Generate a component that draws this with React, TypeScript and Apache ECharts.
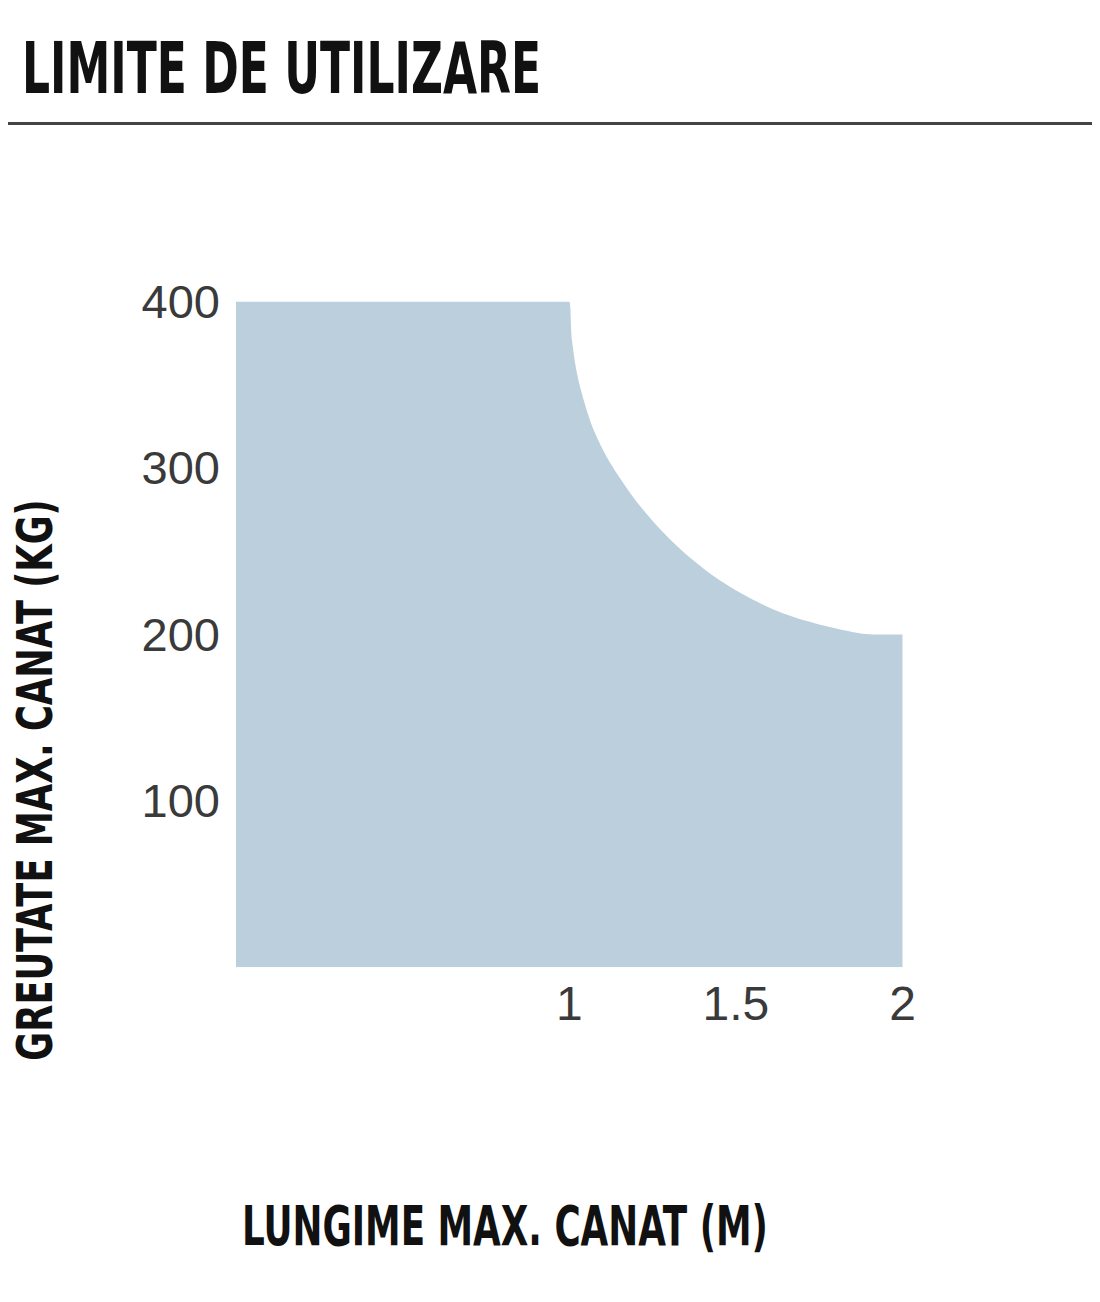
import React, { useEffect, useRef } from "react";
import * as echarts from "echarts";

const TITLE = "LIMITE DE UTILIZARE";
const X_NAME = "LUNGIME MAX. CANAT (M)";
const Y_NAME = "GREUTATE MAX. CANAT (KG)";

const X_TICKS = [1, 1.5, 2];
const Y_TICKS = [100, 200, 300, 400];

// usage limit boundary: [length (m), max weight (kg)]
const LIMIT_FLAT: [number, number][] = [
  [0, 400],
  [0.5, 400],
  [0.99, 400],
];
const LIMIT_CURVE: [number, number][] = [
  [1.0, 400],
  [1.008, 377],
  [1.023, 357],
  [1.043, 341],
  [1.073, 323],
  [1.123, 303],
  [1.213, 277],
  [1.313, 255],
  [1.413, 238],
  [1.513, 225],
  [1.613, 215],
  [1.713, 208],
  [1.813, 203],
  [1.912, 200],
  [2.0, 200],
];

const FILL = "#bccfdc";
const COND = "'Liberation Sans Narrow', 'DejaVu Sans Condensed', sans-serif";

export default function App() {
  const ref = useRef<HTMLDivElement>(null);
  useEffect(() => {
    if (!ref.current) return;
    const chart = echarts.init(ref.current, null, { renderer: "svg" });
    const data = [...LIMIT_FLAT, ...LIMIT_CURVE];
    chart.setOption({
      animation: false,
      backgroundColor: "#ffffff",
      grid: { left: 228, right: 197.5, top: 293.5, bottom: 326.7 },
      xAxis: {
        type: "value",
        min: 0,
        max: 2,
        interval: 0.5,
        axisLine: { show: false },
        axisTick: { show: false },
        splitLine: { show: false },
        axisLabel: {
          margin: 12,
          fontSize: 48,
          color: "#3a3a3a",
          fontFamily: "'Liberation Sans', Arial, sans-serif",
          formatter: (v: number) => (X_TICKS.includes(v) ? String(v) : ""),
        },
      },
      yAxis: {
        type: "value",
        min: 0,
        max: 400,
        interval: 100,
        axisLine: { show: false },
        axisTick: { show: false },
        splitLine: { show: false },
        axisLabel: {
          margin: 16,
          fontSize: 47,
          color: "#3a3a3a",
          fontFamily: "'Liberation Sans', Arial, sans-serif",
          formatter: (v: number) => (Y_TICKS.includes(v) ? String(v) : ""),
        },
      },
      series: [
        {
          type: "line",
          data,
          smooth: 0.3,
          showSymbol: false,
          symbol: "none",
          lineStyle: { width: 0, color: FILL },
          areaStyle: { color: FILL, opacity: 1 },
          silent: true,
        },
      ],
      graphic: [
        {
          type: "text",
          x: 14,
          y: 59.5,
          scaleX: 0.69,
          style: {
            text: TITLE,
            font: `bold 71px ${COND}`,
            fill: "#111111",
            align: "left",
            verticalAlign: "middle",
          },
        },
        {
          type: "line",
          shape: { x1: 0, y1: 115.5, x2: 1092, y2: 115.5 },
          style: { stroke: "#444444", lineWidth: 3 },
        },
        {
          type: "text",
          x: 497,
          y: 1217,
          scaleX: 0.71,
          style: {
            text: X_NAME,
            font: `bold 56px ${COND}`,
            fill: "#111111",
            align: "center",
            verticalAlign: "middle",
          },
        },
        {
          type: "text",
          x: 27,
          y: 772,
          rotation: Math.PI / 2,
          scaleX: 0.8,
          style: {
            text: Y_NAME,
            font: `bold 49px ${COND}`,
            fill: "#111111",
            align: "center",
            verticalAlign: "middle",
          },
        },
      ],
    });
    return () => chart.dispose();
  }, []);
  return <div ref={ref} style={{ width: 1092, height: 1286 }} />;
}
